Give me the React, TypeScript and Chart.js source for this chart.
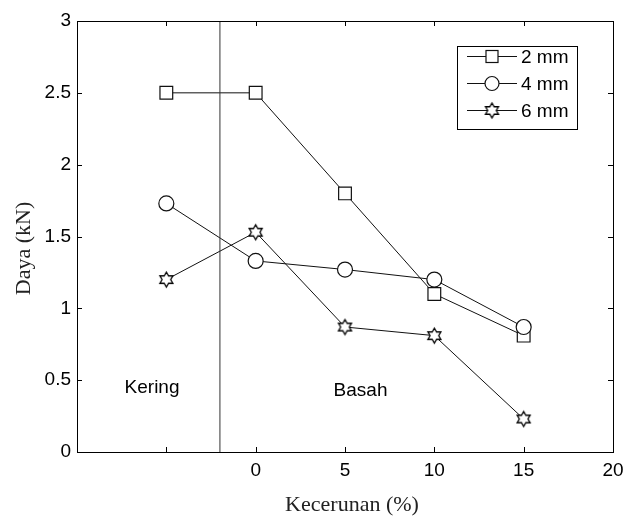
import React, { useEffect, useRef } from "react";
import { Chart, registerables } from "chart.js";

Chart.register(...registerables);

// ---- data ----
const X_VALUES = [-5, 0, 5, 10, 15];
const SERIES_2MM = [2.5, 2.5, 1.8, 1.1, 0.81];
const SERIES_4MM = [1.73, 1.33, 1.27, 1.2, 0.87];
const SERIES_6MM = [1.2, 1.53, 0.87, 0.81, 0.23];
const SERIES_LABELS = ["2 mm", "4 mm", "6 mm"];
const DIVIDER_X = -2;
const X_MIN = -10, X_MAX = 20, X_STEP = 5;
const Y_MIN = 0, Y_MAX = 3, Y_STEP = 0.5;
const REGION_LABELS = ["Kering", "Basah"];
const REGION_X = [-5.8, 5.87];
const REGION_Y = [0.41, 0.39];
const X_TITLE = "Kecerunan (%)";
const Y_TITLE = "Daya (kN)";

const INK = "#111";
const SANS = "'Liberation Sans', Arial, Helvetica, sans-serif";
const SERIF = "'Liberation Serif', 'Times New Roman', serif";

function makeHexagram(R: number): HTMLCanvasElement {
  const size = Math.ceil(R * 2 + 4);
  const c = document.createElement("canvas");
  c.width = size; c.height = size;
  const ctx = c.getContext("2d")!;
  const cx = size / 2, cy = size / 2;
  const r = R / Math.sqrt(3);
  ctx.beginPath();
  for (let k = 0; k < 12; k++) {
    const a = -Math.PI / 2 + (k * Math.PI) / 6;
    const rr = k % 2 === 0 ? R : r;
    const px = cx + rr * Math.cos(a), py = cy + rr * Math.sin(a);
    if (k === 0) ctx.moveTo(px, py); else ctx.lineTo(px, py);
  }
  ctx.closePath();
  ctx.fillStyle = "#fff";
  ctx.fill();
  ctx.strokeStyle = "#000";
  ctx.lineWidth = 1.3;
  ctx.stroke();
  return c;
}

export default function App() {
  const ref = useRef<HTMLCanvasElement | null>(null);
  useEffect(() => {
    document.body.style.margin = "0";
    const canvas = ref.current!;
    const star = makeHexagram(7.5);
    const pts = (ys: number[]) => X_VALUES.map((x, i) => ({ x, y: ys[i] }));

    const frame = {
      id: "frame",
      afterDraw(chart: any) {
        const { ctx, chartArea: a } = chart;
        const xs = chart.scales.x, ys = chart.scales.y;
        ctx.save();
        ctx.strokeStyle = "#000";
        ctx.lineWidth = 1;
        ctx.strokeRect(a.left + 0.5, a.top + 0.5, a.right - a.left, a.bottom - a.top);
        const tl = 5;
        ctx.beginPath();
        xs.ticks.forEach((t: any) => {
          const px = Math.round(xs.getPixelForValue(t.value)) + 0.5;
          ctx.moveTo(px, a.bottom); ctx.lineTo(px, a.bottom - tl);
          ctx.moveTo(px, a.top); ctx.lineTo(px, a.top + tl);
        });
        ys.ticks.forEach((t: any) => {
          const py = Math.round(ys.getPixelForValue(t.value)) + 0.5;
          ctx.moveTo(a.left, py); ctx.lineTo(a.left + tl, py);
          ctx.moveTo(a.right, py); ctx.lineTo(a.right - tl, py);
        });
        ctx.stroke();

        // region labels
        ctx.fillStyle = "#000";
        ctx.font = `19px ${SANS}`;
        ctx.textAlign = "center";
        ctx.textBaseline = "alphabetic";
        REGION_LABELS.forEach((s, i) => {
          ctx.fillText(s, xs.getPixelForValue(REGION_X[i]), ys.getPixelForValue(REGION_Y[i]));
        });

        // axis titles
        ctx.fillStyle = "#222";
        ctx.font = `22px ${SERIF}`;
        ctx.textBaseline = "middle";
        ctx.fillText(X_TITLE, (a.left + a.right) / 2 + 7, 505);
        ctx.save();
        ctx.translate(24, (a.top + a.bottom) / 2 + 12);
        ctx.rotate(-Math.PI / 2);
        ctx.fillText(Y_TITLE, 0, 0);
        ctx.restore();

        // legend
        const bx = a.right - 156, by = a.top + 25, bw = 120, bh = 83;
        ctx.fillStyle = "#fff";
        ctx.fillRect(bx, by, bw, bh);
        ctx.strokeStyle = "#000";
        ctx.lineWidth = 1;
        ctx.strokeRect(bx + 0.5, by + 0.5, bw, bh);
        ctx.font = `19px ${SANS}`;
        ctx.textAlign = "left";
        SERIES_LABELS.forEach((lab, i) => {
          const y = by + 10.5 + i * 27;
          const mx = bx + 35;
          ctx.strokeStyle = INK;
          ctx.lineWidth = 1;
          ctx.beginPath();
          ctx.moveTo(bx + 10, y); ctx.lineTo(bx + 60, y);
          ctx.stroke();
          ctx.fillStyle = "#fff";
          ctx.lineWidth = 1.2;
          if (i === 0) {
            ctx.fillRect(mx - 6, y - 6, 12, 12);
            ctx.strokeRect(mx - 6, y - 6, 12, 12);
          } else if (i === 1) {
            ctx.beginPath();
            ctx.arc(mx, y, 7, 0, Math.PI * 2);
            ctx.fill(); ctx.stroke();
          } else {
            ctx.drawImage(star, mx - star.width / 2, y - star.height / 2);
          }
          ctx.fillStyle = "#000";
          ctx.fillText(lab, bx + 64, y + 1);
        });
        ctx.restore();
      },
    };

    const chart = new Chart(canvas, {
      type: "scatter",
      data: {
        datasets: [
          {
            label: "divider",
            data: [{ x: DIVIDER_X, y: Y_MIN }, { x: DIVIDER_X, y: Y_MAX }],
            showLine: true,
            borderColor: "#333",
            borderWidth: 1,
            pointRadius: 0,
          },
          {
            label: SERIES_LABELS[2],
            data: pts(SERIES_6MM),
            showLine: true,
            borderColor: INK,
            borderWidth: 1,
            pointStyle: star as any,
            pointRadius: 7,
            backgroundColor: "#fff",
          },
          {
            label: SERIES_LABELS[1],
            data: pts(SERIES_4MM),
            showLine: true,
            borderColor: INK,
            borderWidth: 1,
            pointStyle: "circle",
            pointRadius: 7.5,
            pointBorderWidth: 1.2,
            pointBackgroundColor: "#fff",
            pointBorderColor: INK,
          },
          {
            label: SERIES_LABELS[0],
            data: pts(SERIES_2MM),
            showLine: true,
            borderColor: INK,
            borderWidth: 1,
            pointStyle: "rect",
            pointRadius: 9,
            pointBorderWidth: 1.2,
            pointBackgroundColor: "#fff",
            pointBorderColor: INK,
          },
        ],
      },
      options: {
        responsive: false,
        animation: false,
        events: [],
        layout: { padding: { left: 0, right: 20, top: 21, bottom: 0 } },
        plugins: { legend: { display: false }, tooltip: { enabled: false } },
        scales: {
          x: {
            type: "linear",
            min: X_MIN,
            max: X_MAX,
            grid: { display: false, drawTicks: false },
            border: { display: false },
            ticks: {
              stepSize: X_STEP,
              padding: 7,
              color: "#000",
              font: { family: SANS, size: 19 },
              callback: (v: any) => (Number(v) < 0 ? "" : String(v)),
            },
            afterFit: (s: any) => { s.height = 64; },
          },
          y: {
            type: "linear",
            min: Y_MIN,
            max: Y_MAX,
            grid: { display: false, drawTicks: false },
            border: { display: false },
            ticks: {
              stepSize: Y_STEP,
              padding: 6,
              color: "#000",
              font: { family: SANS, size: 19 },
              callback: (v: any) => String(Number(v)),
            },
            afterFit: (s: any) => { s.width = 77; },
          },
        },
      },
      plugins: [frame],
    });
    return () => chart.destroy();
  }, []);
  return <canvas ref={ref} width={633} height={516} style={{ display: "block", width: 633, height: 516 }} />;
}
